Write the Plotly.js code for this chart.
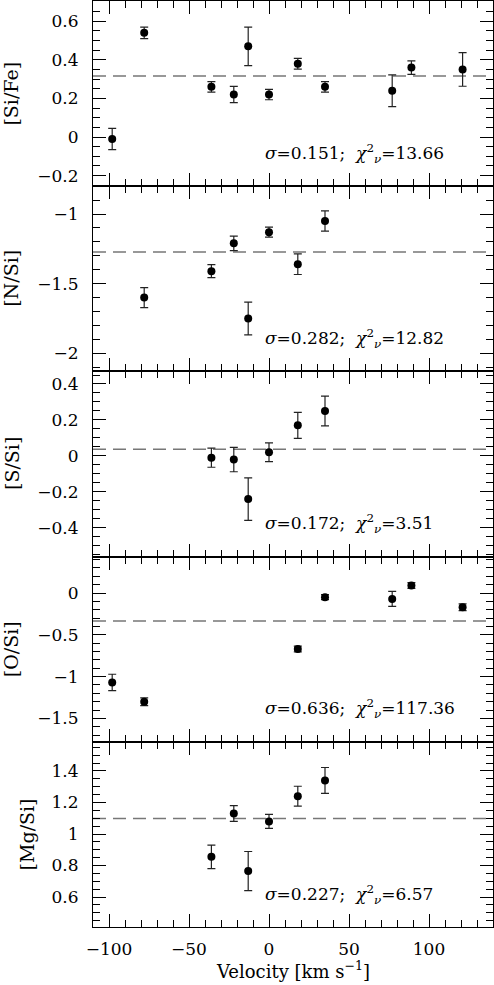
<!DOCTYPE html>
<html>
<head>
<meta charset="utf-8">
<script src="https://cdn.plot.ly/plotly-3.0.1.min.js"></script>
<style>
  body { margin: 0; background: white; }
  #plot { width: 494px; height: 985px; }
</style>
</head>
<body>
<div id="plot"></div>
<script>
'use strict'
// component velocities (km/s) and abundance ratios
let velSiFe = [-98, -78, -36, -22, -13, 0, 18, 35, 77, 89, 121];
let siFe = [-0.01, 0.54, 0.26, 0.22, 0.47, 0.22, 0.38, 0.26, 0.24, 0.36, 0.35];
let siFeErr = [0.055, 0.03, 0.027, 0.042, 0.10, 0.027, 0.028, 0.027, 0.082, 0.035, 0.087];

let velNSi = [-78, -36, -22, -13, 0, 18, 35];
let nSi = [-1.60, -1.41, -1.21, -1.75, -1.13, -1.36, -1.05];
let nSiErr = [0.072, 0.047, 0.052, 0.117, 0.036, 0.074, 0.073];

let velSSi = [-36, -22, -13, 0, 18, 35];
let sSi = [-0.01, -0.02, -0.24, 0.02, 0.17, 0.25];
let sSiErr = [0.053, 0.068, 0.118, 0.052, 0.072, 0.083];

let velOSi = [-98, -78, 18, 35, 77, 89, 121];
let oSi = [-1.07, -1.30, -0.67, -0.05, -0.07, 0.09, -0.17];
let oSiErr = [0.098, 0.046, 0.034, 0.03, 0.09, 0.034, 0.04];

let velMgSi = [-36, -22, -13, 0, 18, 35];
let mgSi = [0.855, 1.13, 0.765, 1.08, 1.24, 1.34];
let mgSiErr = [0.075, 0.05, 0.124, 0.044, 0.063, 0.082];

// per panel labels, mean level (dashed line) and stats
let ratioLabels = ['[Si/Fe]', '[N/Si]', '[S/Si]', '[O/Si]', '[Mg/Si]'];
let meanLevels = [0.316, -1.273, 0.037, -0.336, 1.099];
let sigmaText = ['0.151', '0.282', '0.172', '0.636', '0.227'];
let chi2Text = ['13.66', '12.82', '3.51', '117.36', '6.57'];

let vels = [velSiFe, velNSi, velSSi, velOSi, velMgSi];
let vals = [siFe, nSi, sSi, oSi, mgSi];
let errs = [siFeErr, nSiErr, sSiErr, oSiErr, mgSiErr];

// axis settings for each panel, top to bottom
let yRanges = [[-0.255, 0.705], [-2.13, -0.8], [-0.56, 0.47], [-1.78, 0.436], [0.41, 1.585]];
let yDticks = [0.2, 0.5, 0.2, 0.5, 0.2];
let yMinor = [0.05, 0.1, 0.05, 0.1, 0.05];
let titleShift = [-82, -82, -81, -82, -66];

let font = 'DejaVu Serif';
let traces = [];
let shapes = [];
let annotations = [];
let layout = {
  width: 494,
  height: 985,
  margin: {l: 93, r: 1, t: 1, b: 58},
  paper_bgcolor: 'white',
  plot_bgcolor: 'rgba(0,0,0,0)',
  showlegend: false,
  font: {family: font, size: 17, color: 'black'}
};

for (let i = 0; i < 5; i++) {
  let n = i === 0 ? '' : String(i + 1);
  let top = 1 - i * 0.2;
  let last = i === 4;

  traces.push({
    x: vels[i], y: vals[i],
    xaxis: 'x' + n, yaxis: 'y' + n,
    type: 'scatter', mode: 'markers',
    marker: {color: 'black', size: 8},
    error_y: {type: 'data', array: errs[i], visible: true, color: '#222', thickness: 1.2, width: 4},
    hoverinfo: 'x+y'
  });

  layout['xaxis' + n] = {
    domain: [0, 1],
    anchor: 'y' + n,
    range: [-110, 140],
    tick0: 0, dtick: 50,
    ticks: 'inside', ticklen: 13, tickwidth: 1, tickcolor: 'black',
    minor: {dtick: 10, ticks: 'inside', ticklen: 7, tickwidth: 1, tickcolor: 'black'},
    showline: true, linecolor: 'black', linewidth: 1, mirror: 'allticks',
    showgrid: false, zeroline: false,
    showticklabels: last,
    ticklabelstandoff: 7
  };
  if (i > 0) layout['xaxis' + n].matches = 'x';

  layout['yaxis' + n] = {
    domain: [top - 0.2, top],
    anchor: 'x' + n,
    range: yRanges[i],
    tick0: 0, dtick: yDticks[i],
    ticks: 'inside', ticklen: 13, tickwidth: 1, tickcolor: 'black',
    minor: {dtick: yMinor[i], ticks: 'inside', ticklen: 7, tickwidth: 1, tickcolor: 'black'},
    showline: true, linecolor: 'black', linewidth: 1, mirror: 'allticks',
    showgrid: false, zeroline: false,
    ticklabelstandoff: 10
  };

  // dashed mean level
  shapes.push({
    type: 'line', layer: 'below',
    xref: 'x' + n + ' domain', x0: 0, x1: 1,
    yref: 'y' + n, y0: meanLevels[i], y1: meanLevels[i],
    line: {color: '#777', width: 1.5, dash: '13px,7px'}
  });

  // rotated y label
  annotations.push({
    text: ratioLabels[i], textangle: -90,
    xref: 'paper', x: 0, xshift: titleShift[i], xanchor: 'center',
    yref: 'y' + n + ' domain', y: 0.5, yanchor: 'middle',
    showarrow: false, font: {size: 19}
  });

  // sigma and reduced chi2
  annotations.push({
    text: '<i>σ</i>=' + sigmaText[i] + ';  <i>χ</i><sup>2</sup><sub><i>ν</i></sub>=' + chi2Text[i],
    xref: 'x' + n, x: -4, xanchor: 'left',
    yref: 'y' + n + ' domain', y: 0, yanchor: 'middle', yshift: 33,
    showarrow: false, font: {size: 17}
  });
}

// x axis title under the bottom panel
annotations.push({
  text: 'Velocity [km s<sup>−1</sup>]',
  xref: 'paper', x: 0.5, xanchor: 'center',
  yref: 'paper', y: 0, yanchor: 'bottom', yshift: -57,
  showarrow: false, font: {size: 18}
});

layout.shapes = shapes;
layout.annotations = annotations;

let div = document.getElementById('plot');
Plotly.newPlot(div, traces, layout, {staticPlot: true});
</script>
</body>
</html>
